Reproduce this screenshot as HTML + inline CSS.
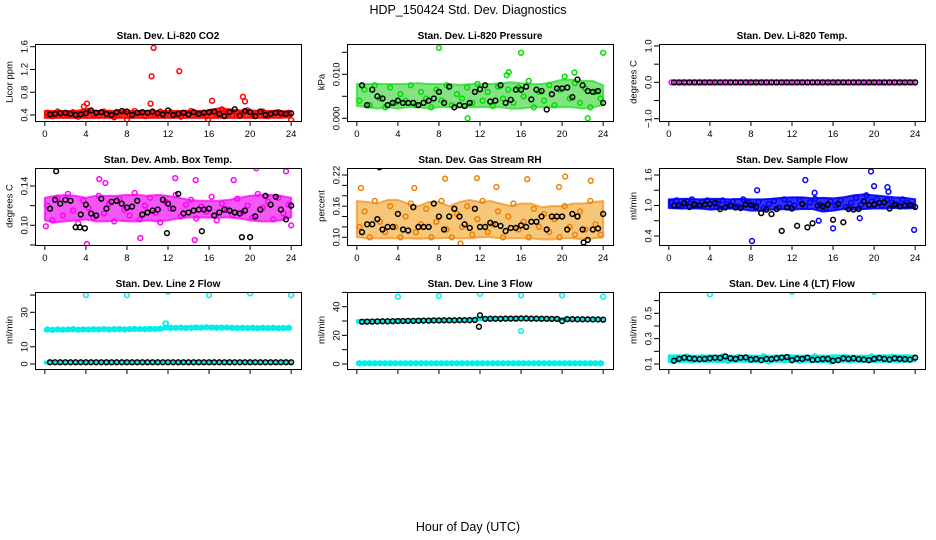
<!DOCTYPE html>
<html><head><meta charset="utf-8">
<style>
html,body{margin:0;padding:0;background:#fff;}
svg{display:block;font-family:"Liberation Sans",Arial,sans-serif;}
</style></head>
<body>
<svg id="chart" width="936" height="540" viewBox="0 0 936 540" xmlns="http://www.w3.org/2000/svg">
<text x="468" y="14" text-anchor="middle" font-size="12.5">HDP_150424  Std. Dev. Diagnostics</text>
<text x="468" y="531" text-anchor="middle" font-size="12.5">Hour of Day (UTC)</text>
</svg>
<script>
// ---- data (values per half-hour; hours 0.5..24) ----
const xTicks = [0,4,8,12,16,20,24];

const co2Black = [0.41,0.42,0.43,0.44,0.42,0.40,0.41,0.43,0.48,0.44,0.45,0.42,0.40,0.45,0.47,0.46,0.40,0.44,0.45,0.44,0.46,0.43,0.41,0.48,0.40,0.42,0.44,0.41,0.45,0.42,0.44,0.45,0.46,0.42,0.38,0.45,0.50,0.39,0.47,0.45,0.38,0.46,0.40,0.42,0.44,0.43,0.42,0.43];
const co2Color = [0.44,0.38,0.46,0.40,0.42,0.45,0.37,0.43,0.47,0.41,0.39,0.46,0.44,0.36,0.42,0.45,0.40,0.47,0.43,0.38,0.44,0.41,0.46,0.39,0.45,0.42,0.37,0.44,0.47,0.40,0.43,0.38,0.46,0.41,0.50,0.44,0.39,0.45,0.42,0.48,0.40,0.44,0.46,0.38,0.43,0.45,0.41,0.44];
const co2Lo = [0.35,0.35,0.35,0.35,0.35,0.35,0.35,0.35,0.35,0.35,0.35,0.35,0.35,0.35,0.35,0.35,0.35,0.35,0.35,0.35,0.35,0.35,0.35,0.35,0.36];
const co2Hi = [0.47,0.47,0.47,0.47,0.50,0.47,0.47,0.47,0.47,0.47,0.47,0.47,0.47,0.47,0.47,0.47,0.48,0.52,0.50,0.48,0.48,0.47,0.47,0.47,0.46];
const co2OutX = [10.6,10.4,13.1,19.3,19.5,16.3,4.1,10.3,3.8,24,8,15.9];
const co2OutY = [1.58,1.08,1.17,0.72,0.64,0.65,0.60,0.60,0.55,0.31,0.32,0.32];

const presBlack = [0.0075,0.003,0.0065,0.005,0.0045,0.003,0.0035,0.004,0.0035,0.0035,0.0035,0.003,0.0035,0.004,0.0045,0.006,0.0035,0.0072,0.0025,0.003,0.0028,0.0035,0.006,0.0066,0.0075,0.0038,0.004,0.0075,0.0035,0.0042,0.0065,0.0065,0.0072,0.0043,0.0065,0.0062,0.002,0.0055,0.0068,0.0068,0.007,0.0048,0.0088,0.0075,0.0062,0.0060,0.0062,0.0035];
const presColor = [0.004,0.0065,0.003,0.0075,0.0045,0.0025,0.007,0.0035,0.0055,0.004,0.0075,0.003,0.006,0.0045,0.0025,0.0065,0.004,0.0075,0.003,0.0055,0.0045,0.007,0.0035,0.0078,0.004,0.006,0.0028,0.0072,0.0045,0.0065,0.0035,0.007,0.005,0.0085,0.0025,0.006,0.004,0.0075,0.003,0.0065,0.0095,0.0045,0.008,0.0035,0.0068,0.0025,0.006,0.0045];
const presLo = [0.0028,0.0025,0.0022,0.0025,0.0022,0.0025,0.0025,0.0022,0.0025,0.0025,0.0025,0.0025,0.0025,0.0025,0.0025,0.0022,0.0022,0.0025,0.0025,0.0025,0.0025,0.0025,0.0022,0.0025,0.003];
const presHi = [0.0078,0.0078,0.0078,0.0078,0.0078,0.0078,0.0080,0.0078,0.0078,0.0078,0.0076,0.0078,0.0078,0.0078,0.0080,0.0082,0.0080,0.0078,0.0078,0.0082,0.0088,0.0088,0.0085,0.0085,0.0075];
const presOutX = [8,16,24,10.8,22.5,14.8,14.6,21.2];
const presOutY = [0.0160,0.0149,0.0149,0.0000,0.0000,0.0105,0.0098,0.0104];

const tempBlack = [0,0,0,0,0,0,0,0,0,0,0,0,0,0,0,0,0,0,0,0,0,0,0,0,0,0,0,0,0,0,0,0,0,0,0,0,0,0,0,0,0,0,0,0,0,0,0,0];
const tempColor = [0,0,0,0,0,0,0,0,0,0,0,0,0,0,0,0,0,0,0,0,0,0,0,0,0,0,0,0,0,0,0,0,0,0,0,0,0,0,0,0,0,0,0,0,0,0,0,0];

const ambBlack = [0.117,0.126,0.122,0.126,0.125,0.098,0.111,0.121,0.112,0.110,0.127,0.117,0.124,0.125,0.122,0.118,0.119,0.125,0.111,0.113,0.115,0.116,0.126,0.122,0.117,0.132,0.112,0.113,0.115,0.116,0.116,0.117,0.110,0.113,0.116,0.115,0.113,0.112,0.115,0.088,0.109,0.116,0.130,0.121,0.129,0.116,0.106,0.120];
const ambColor = [0.12,0.105,0.128,0.11,0.132,0.115,0.102,0.125,0.118,0.108,0.13,0.112,0.122,0.104,0.127,0.116,0.11,0.133,0.106,0.12,0.128,0.113,0.103,0.124,0.117,0.131,0.109,0.121,0.126,0.107,0.119,0.114,0.129,0.105,0.122,0.116,0.11,0.127,0.113,0.12,0.108,0.132,0.118,0.124,0.106,0.128,0.112,0.121];
const ambLo = [0.105,0.103,0.104,0.105,0.106,0.104,0.104,0.105,0.104,0.104,0.105,0.104,0.105,0.107,0.108,0.108,0.108,0.108,0.108,0.107,0.105,0.104,0.104,0.105,0.108];
const ambHi = [0.128,0.130,0.131,0.130,0.128,0.130,0.130,0.130,0.131,0.131,0.130,0.131,0.130,0.128,0.126,0.125,0.125,0.125,0.126,0.128,0.130,0.131,0.131,0.130,0.128];
const ambOutX = [1.1,20.6,23.5,12.7,14.7,5.3,5.9,18.4,4.1,9.3,14.6,19.2,11.9,15.3,3.4,3.9,0.1,24];
const ambOutY = [0.155,0.158,0.155,0.148,0.146,0.147,0.143,0.146,0.081,0.087,0.085,0.088,0.092,0.094,0.098,0.097,0.099,0.100];

const rhBlack = [0.11,0.125,0.125,0.135,0.115,0.12,0.12,0.145,0.115,0.113,0.158,0.12,0.12,0.12,0.165,0.14,0.115,0.14,0.155,0.14,0.125,0.118,0.155,0.12,0.12,0.128,0.125,0.122,0.112,0.118,0.118,0.123,0.12,0.13,0.13,0.14,0.115,0.14,0.14,0.14,0.115,0.145,0.14,0.115,0.095,0.115,0.117,0.145];
const rhColor = [0.12,0.15,0.1,0.17,0.13,0.11,0.16,0.12,0.1,0.14,0.165,0.11,0.125,0.155,0.1,0.13,0.17,0.115,0.1,0.145,0.12,0.16,0.105,0.135,0.17,0.11,0.125,0.15,0.1,0.14,0.165,0.115,0.13,0.1,0.155,0.12,0.145,0.11,0.135,0.1,0.16,0.12,0.105,0.15,0.115,0.17,0.125,0.105];
const rhLo = [0.100,0.098,0.098,0.098,0.098,0.098,0.097,0.098,0.098,0.099,0.098,0.098,0.100,0.100,0.098,0.098,0.098,0.098,0.096,0.096,0.098,0.098,0.096,0.098,0.100];
const rhHi = [0.170,0.168,0.165,0.172,0.172,0.165,0.160,0.168,0.168,0.160,0.168,0.172,0.168,0.170,0.165,0.160,0.165,0.165,0.158,0.160,0.160,0.165,0.165,0.168,0.170];
const rhOutX = [2.2,8.6,11.7,16.6,20.3,22.8,0.4,5.6,13.6,19.7,10.1,22.1];
const rhOutY = [0.235,0.213,0.214,0.212,0.217,0.209,0.195,0.195,0.197,0.197,0.088,0.090];

const flowBlack = [1.0,1.0,1.05,0.97,1.02,1.0,1.02,1.03,1.05,0.93,0.96,1.0,0.96,0.95,1.02,1.01,0.97,0.85,0.92,0.83,0.93,0.5,0.96,0.94,0.6,1.03,0.57,0.65,1.0,0.98,1.02,0.72,1.03,0.67,0.93,0.92,0.93,1.08,1.01,1.02,1.05,1.06,0.94,1.02,0.98,1.0,1.01,0.97];
const flowColor = [1.05,1.1,0.98,1.08,1.12,1.0,1.06,1.1,0.97,1.04,1.1,1.02,1.08,0.98,1.12,1.05,1.0,1.07,0.95,1.03,1.09,0.96,1.12,1.04,1.0,1.1,0.98,1.06,1.13,1.02,0.95,1.08,1.0,1.1,0.97,1.05,1.15,1.02,1.2,1.08,1.12,1.0,1.1,1.06,1.02,1.12,1.05,1.0];
const flowLo = [0.95,0.94,0.94,0.94,0.92,0.93,0.94,0.93,0.90,0.90,0.92,0.93,0.92,0.93,0.93,0.88,0.90,0.93,0.92,0.93,0.94,0.94,0.95,0.94,0.95];
const flowHi = [1.12,1.13,1.13,1.12,1.13,1.13,1.12,1.13,1.12,1.12,1.13,1.15,1.16,1.16,1.14,1.15,1.14,1.16,1.20,1.22,1.20,1.18,1.16,1.15,1.12];
const flowOutX = [8.1,19.7,13.3,8.6,20,21.3,23.9,16,14.6,18.6,21.4,14.2];
const flowOutY = [0.30,1.67,1.50,1.30,1.38,1.36,0.52,0.55,0.70,0.75,1.27,1.25];

const l2Black = [1,1,1,1,1,1,1,1,1,1,1,1,1,1,1,1,1,1,1,1,1,1,1,1,1,1,1,1,1,1,1,1,1,1,1,1,1,1,1,1,1,1,1,1,1,1,1,1];
const l2Color = [20.0,19.8,20.1,19.9,20.0,20.2,19.9,20.1,20.0,20.2,20.1,20.3,20.0,20.2,20.3,20.1,20.2,20.4,20.3,20.2,20.4,20.3,20.5,23.5,21.0,21.0,21.1,20.9,21.0,21.2,21.1,21.3,21.2,21.0,21.1,21.2,21.0,20.9,21.0,20.9,21.0,20.8,21.0,20.9,21.0,20.8,20.9,21.0];
const l2Lo = [19.2,19.2,19.2,19.3,19.3,19.4,19.4,19.4,19.5,19.5,19.5,19.6,20.2,20.4,20.4,20.4,20.5,20.4,20.3,20.2,20.2,20.2,20.2,20.2,20.2];
const l2Hi = [20.6,20.6,20.6,20.7,20.7,20.8,20.8,20.8,20.9,20.9,21.0,21.0,21.6,21.7,21.8,21.8,21.9,21.8,21.7,21.6,21.6,21.6,21.6,21.6,21.6];
const l2Lo2 = [0.3,0.3,0.3,0.3,0.3,0.3,0.3,0.3,0.3,0.3,0.3,0.3,0.3,0.3,0.3,0.3,0.3,0.3,0.3,0.3,0.3,0.3,0.3,0.3,0.3];
const l2Hi2 = [1.4,1.4,1.4,1.4,1.4,1.4,1.4,1.4,1.4,1.4,1.4,1.4,1.4,1.4,1.4,1.4,1.4,1.4,1.4,1.4,1.4,1.4,1.4,1.4,1.4];
const l2OutX = [4,8,12,16,20,24,11.8];
const l2OutY = [40,40,42,40,41,40,23.5];

const l3Black = [29.5,29.6,29.6,29.7,29.8,29.8,29.9,30.0,30.0,30.1,30.1,30.2,30.3,30.3,30.4,30.4,30.5,30.5,30.5,30.6,30.6,30.6,30.7,34.0,31.5,31.6,31.6,31.6,31.7,31.7,31.7,31.8,31.8,31.7,31.7,31.6,31.6,31.5,31.5,30.0,31.3,31.3,31.2,31.2,31.2,31.1,31.1,31.0];
const l3Color = [0.5,0.5,0.5,0.5,0.5,0.5,0.5,0.5,0.5,0.5,0.5,0.5,0.5,0.5,0.5,0.5,0.5,0.5,0.5,0.5,0.5,0.5,0.5,0.5,0.5,0.5,0.5,0.5,0.5,0.5,0.5,0.5,0.5,0.5,0.5,0.5,0.5,0.5,0.5,0.5,0.5,0.5,0.5,0.5,0.5,0.5,0.5,0.5];
const l3Lo = [28.8,29.0,29.0,29.1,29.2,29.3,29.4,29.5,29.6,29.6,29.7,29.8,30.6,30.8,30.8,30.8,30.8,30.6,30.6,30.5,30.5,30.4,30.4,30.3,30.2];
const l3Hi = [30.6,30.7,30.8,30.9,31.0,31.1,31.2,31.3,31.3,31.4,31.5,31.6,33.0,32.4,32.4,32.4,32.5,32.3,32.2,32.1,32.2,32.0,31.9,31.8,31.8];
const l3Lo2 = [-0.3,-0.3,-0.3,-0.3,-0.3,-0.3,-0.3,-0.3,-0.3,-0.3,-0.3,-0.3,-0.3,-0.3,-0.3,-0.3,-0.3,-0.3,-0.3,-0.3,-0.3,-0.3,-0.3,-0.3,-0.3];
const l3Hi2 = [1.3,1.3,1.3,1.3,1.3,1.3,1.3,1.3,1.3,1.3,1.3,1.3,1.3,1.3,1.3,1.3,1.3,1.3,1.3,1.3,1.3,1.3,1.3,1.3,1.3];
const l3OutX = [4,8,12,16,20,24,16,11.9];
const l3OutY = [47,47.5,49,48,48,47,23,26];

const l4Black = [0.125,0.14,0.15,0.145,0.14,0.138,0.14,0.145,0.15,0.148,0.16,0.145,0.14,0.15,0.152,0.135,0.14,0.13,0.14,0.138,0.145,0.15,0.155,0.13,0.142,0.14,0.15,0.132,0.135,0.14,0.14,0.125,0.13,0.145,0.14,0.145,0.138,0.135,0.13,0.14,0.148,0.14,0.135,0.145,0.14,0.138,0.135,0.15];
const l4Color = [0.13,0.15,0.14,0.16,0.125,0.145,0.155,0.13,0.15,0.14,0.16,0.125,0.14,0.155,0.135,0.15,0.13,0.145,0.16,0.12,0.14,0.15,0.13,0.155,0.14,0.125,0.15,0.14,0.16,0.13,0.145,0.12,0.15,0.14,0.155,0.13,0.145,0.15,0.135,0.16,0.13,0.145,0.14,0.155,0.13,0.15,0.14,0.145];
const l4Lo = [0.115,0.118,0.118,0.118,0.118,0.115,0.118,0.118,0.118,0.118,0.118,0.118,0.118,0.118,0.118,0.115,0.115,0.118,0.118,0.118,0.118,0.118,0.118,0.118,0.12];
const l4Hi = [0.168,0.168,0.165,0.165,0.168,0.165,0.165,0.165,0.165,0.165,0.165,0.168,0.168,0.165,0.165,0.165,0.168,0.168,0.165,0.165,0.165,0.168,0.168,0.168,0.165];
const l4OutX = [4,12,20];
const l4OutY = [0.65,0.67,0.67];

// ---- panel layout ----
const panels = [
 {id:'co2',title:'Stan. Dev. Li-820 CO2',ylab:'Licor ppm',col:0,row:0,color:'#ff0000',band:'#ff1a1a',op:0.9,v1:0.4,p1:115,v2:1.6,p2:46.7,ticks:[0.4,0.8,1.2,1.6],labels:['0.4','0.8','1.2','1.6'],black:co2Black,colr:co2Color,bands:[[co2Lo,co2Hi]],ox:co2OutX,oy:co2OutY,xl:true},
 {id:'pressure',title:'Stan. Dev. Li-820 Pressure',ylab:'kPa',col:1,row:0,color:'#00dd00',band:'#30d030',op:0.6,v1:0,p1:118.3,v2:0.010,p2:74.3,ticks:[0,0.005,0.010,0.015],labels:['0.000','','0.010',''],black:presBlack,colr:presColor,bands:[[presLo,presHi]],ox:presOutX,oy:presOutY,xl:true},
 {id:'temp',title:'Stan. Dev. Li-820 Temp.',ylab:'degrees C',col:2,row:0,color:'#ff00ff',band:null,op:1,v1:-1,p1:118.7,v2:1,p2:46,ticks:[-1,-0.5,0,0.5,1],labels:['\u22121.0','','0.0','','1.0'],black:tempBlack,colr:tempColor,bands:[],ox:[],oy:[],xl:true},
 {id:'amb-temp',title:'Stan. Dev. Amb. Box Temp.',ylab:'degrees C',col:0,row:1,color:'#ff00ff',band:'#f020f0',op:0.75,v1:0.10,p1:225.3,v2:0.14,p2:186,ticks:[0.08,0.10,0.12,0.14],labels:['','0.10','','0.14'],black:ambBlack,colr:ambColor,bands:[[ambLo,ambHi]],ox:ambOutX,oy:ambOutY,xl:true},
 {id:'gas-rh',title:'Stan. Dev. Gas Stream RH',ylab:'percent',col:1,row:1,color:'#f08000',band:'#f0a020',op:0.6,v1:0.10,p1:237.3,v2:0.22,p2:175,ticks:[0.10,0.12,0.14,0.16,0.18,0.20,0.22],labels:['0.10','','','0.16','','','0.22'],black:rhBlack,colr:rhColor,bands:[[rhLo,rhHi]],ox:rhOutX,oy:rhOutY,xl:true},
 {id:'sample-flow',title:'Stan. Dev. Sample Flow',ylab:'ml/min',col:2,row:1,color:'#0000ff',band:'#1a1aff',op:0.9,v1:0.4,p1:236,v2:1.6,p2:175,ticks:[0.4,0.7,1.0,1.3,1.6],labels:['0.4','','1.0','','1.6'],black:flowBlack,colr:flowColor,bands:[[flowLo,flowHi]],ox:flowOutX,oy:flowOutY,xl:true},
 {id:'line2-flow',title:'Stan. Dev. Line 2 Flow',ylab:'ml/min',col:0,row:2,color:'#00eeee',band:'#00f0f0',op:1,v1:0,p1:364,v2:30,p2:312.3,ticks:[0,10,20,30,40],labels:['0','10','','30',''],black:l2Black,colr:l2Color,bands:[[l2Lo,l2Hi],[l2Lo2,l2Hi2]],ox:l2OutX,oy:l2OutY,xl:false},
 {id:'line3-flow',title:'Stan. Dev. Line 3 Flow',ylab:'ml/min',col:1,row:2,color:'#00eeee',band:'#00f0f0',op:1,v1:0,p1:364,v2:40,p2:306.7,ticks:[0,10,20,30,40,50],labels:['0','','20','','40',''],black:l3Black,colr:l3Color,bands:[[l3Lo,l3Hi],[l3Lo2,l3Hi2]],ox:l3OutX,oy:l3OutY,xl:false},
 {id:'line4-flow',title:'Stan. Dev. Line 4 (LT) Flow',ylab:'ml/min',col:2,row:2,color:'#00eeee',band:'#00f0f0',op:1,v1:0.1,p1:364,v2:0.5,p2:313.3,ticks:[0.1,0.2,0.3,0.4,0.5,0.6],labels:['0.1','','0.3','','0.5',''],black:l4Black,colr:l4Color,bands:[[l4Lo,l4Hi]],ox:l4OutX,oy:l4OutY,xl:false}
];

const NS='http://www.w3.org/2000/svg';
const svg=document.getElementById('chart');
function mk(tag,attrs,parent){const e=document.createElementNS(NS,tag);for(const k in attrs)e.setAttribute(k,attrs[k]);(parent||svg).appendChild(e);return e;}

panels.forEach(p=>{
  const left=35+312*p.col, right=left+266, top=44+124*p.row, bottom=top+77;
  const g=mk('g',{});
  
  
  const xs=h=>left+(h+0.96)/25.92*266;
  const ys=v=>p.p1+(v-p.v1)*(p.p2-p.p1)/(p.v2-p.v1);
  const clip='clip-'+p.id;
  const cp=mk('clipPath',{id:clip},g); mk('rect',{x:left,y:top,width:266,height:77},cp);
  const data=mk('g',{'clip-path':'url(#'+clip+')'},g);
  p.bands.forEach((b,bi)=>{
    let pts=[];
    b[1].forEach((v,i)=>pts.push(xs(i)+','+ys(v)));
    for(let i=b[0].length-1;i>=0;i--)pts.push(xs(i)+','+ys(b[0][i]));
    const poly=mk('polygon',{points:pts.join(' '),fill:p.band,'fill-opacity':p.op,stroke:p.color,'stroke-opacity':p.op,'stroke-width':2,'stroke-linejoin':'round'},data);
    
    
  });
  p.colr.forEach((v,i)=>{
    const c=mk('circle',{cx:xs(0.25+0.5*i),cy:ys(v),r:2.4,fill:'none',stroke:p.color,'stroke-width':1.5},data);
    
    
  });
  if(p.id==='temp'){
    p.colr.forEach((v,i)=>{
      const c=mk('circle',{cx:xs(0.5*i+0.5),cy:ys(v),r:2.4,fill:'none',stroke:p.color,'stroke-width':1.5},data);
      
      
    });
  }
  p.ox.forEach((h,i)=>{
    const isBlack=(p.id==='amb-temp'&&(h===1.1||h===19.2||h===11.9||h===15.3||h===3.4||h===3.9))||(p.id==='gas-rh'&&(h===2.2||h===22.1))||(p.id==='line3-flow'&&h===11.9);
    const c=mk('circle',{cx:xs(h),cy:ys(p.oy[i]),r:2.4,fill:'none',stroke:isBlack?'#000':p.color,'stroke-width':1.5},data);
    
    
  });
  p.black.forEach((v,i)=>{
    const c=mk('circle',{cx:xs(0.5+0.5*i),cy:ys(v),r:2.4,fill:'none',stroke:'#000','stroke-width':1.5},data);
    
    
  });
  const box=mk('rect',{x:left+0.5,y:top+0.5,width:266,height:77,fill:'none',stroke:'#000','stroke-width':1},g);
  
  
  const t=mk('text',{x:left+133,y:top-5,'text-anchor':'middle','font-size':10,'font-weight':'bold'},g);
  t.textContent=p.title;
  
  
  const xa=mk('g',{},g);
  
  
  mk('line',{x1:xs(0),x2:xs(24),y1:bottom+0.5,y2:bottom+0.5,stroke:'#000'},xa);
  xTicks.forEach(h=>{
    mk('line',{x1:xs(h),x2:xs(h),y1:bottom,y2:bottom+5,stroke:'#000'},xa);
    if(p.xl){const tl=mk('text',{x:xs(h),y:bottom+16,'text-anchor':'middle','font-size':9.5},xa);tl.textContent=h;}
  });
  const ya=mk('g',{},g);
  
  
  p.ticks.forEach((v,i)=>{
    const y=ys(v);
    if(y<top-2||y>bottom+2)return;
    mk('line',{x1:left-5,x2:left,y1:y,y2:y,stroke:'#000'},ya);
    if(p.labels[i]){const tl=mk('text',{x:left-11,y:y,'text-anchor':'middle','font-size':9.5,transform:'rotate(-90 '+(left-11)+' '+y+')',dy:'3.5'},ya);tl.textContent=p.labels[i];}
  });
  const yl=mk('text',{x:left-26,y:top+38,'text-anchor':'middle','font-size':9.5,transform:'rotate(-90 '+(left-26)+' '+(top+38)+')',dy:'3.5'},g);
  yl.textContent=p.ylab;
  
  
});
</script>
</body></html>
